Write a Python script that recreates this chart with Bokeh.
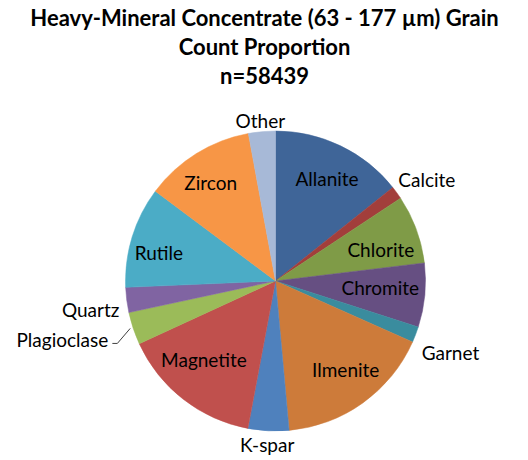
import math
from bokeh.plotting import figure
from bokeh.models import ColumnDataSource, Range1d
from bokeh.core.properties import value
from bokeh.embed import file_html
from bokeh.resources import INLINE

# ---- data (percent of grain count) ----
minerals = ["Allanite", "Calcite", "Chlorite", "Chromite", "Garnet", "Ilmenite",
            "K-spar", "Magnetite", "Plagioclase", "Quartz", "Rutile", "Zircon", "Other"]
proportions = [14.3, 1.4, 7.4, 6.9, 1.7, 16.9, 4.4, 15.2, 3.5, 2.7, 10.9, 11.9, 2.9]
colors = ["#3F6598", "#A23E3B", "#7F9B47", "#664F82", "#3A8C9E", "#CD7B3A",
          "#4F81BD", "#C0504D", "#9BBB59", "#8064A2", "#4BACC6", "#F79646", "#A7B9D7"]
title_lines = ["Heavy-Mineral Concentrate (63 - 177 \u00b5m) Grain",
               "Count Proportion", "n=58439"]

# ---- layout (label placement: radius in px, angle nudge in degrees) ----
W, H = 528, 460
CX, CY, R = 275, H - 280.5, 150
label_r = [115, 182, 110, 105, 189, 113, 164, 106, 221, 187, 120, 118, 161]
label_da = [0.9, 2.3, 3.5, -1.9, 1.3, -2.8, 0.2, 4.5, 3.1, -1.4, -3.6, -1.5, -0.2]

total = sum(proportions)
starts, ends, mids = [], [], []
acc = 0.0
for v in proportions:
    a0 = acc / total * 360.0
    acc += v
    a1 = acc / total * 360.0
    # clockwise-from-top -> bokeh (anticlockwise from +x)
    starts.append(math.radians(90 - a1))
    ends.append(math.radians(90 - a0))
    mids.append((a0 + a1) / 2)

src = ColumnDataSource(dict(start=starts, end=ends, color=colors, name=minerals))

p = figure(width=W, height=H, x_range=Range1d(0, W), y_range=Range1d(0, H),
           output_backend="svg", toolbar_location=None, min_border=0)
p.axis.visible = False
p.grid.visible = False
p.outline_line_color = None
p.background_fill_color = "white"
p.border_fill_color = "white"

p.wedge(x=CX, y=CY, radius=R, start_angle="start", end_angle="end",
        fill_color="color", line_color="color", line_width=0.5, source=src)

lx, ly = [], []
for m, r, da in zip(mids, label_r, label_da):
    a = math.radians(m + da)
    lx.append(CX + r * math.sin(a))
    ly.append(CY + r * math.cos(a))

p.text(x=lx, y=ly, text=minerals, text_font=value("Lato"), text_font_size="19px",
       text_align="center", text_baseline="middle", text_color="black")

# leader line for Plagioclase
i = minerals.index("Plagioclase")
am = math.radians(mids[i])
ex, ey = CX + R * math.sin(am), CY + R * math.cos(am)
px_end = lx[i] + 50
p.line(x=[ex - 3, px_end + 5, px_end], y=[ey, ly[i] - 4, ly[i] - 4],
       line_color="#404040", line_width=1)

# title
ty = [H - 17, H - 46, H - 75]
p.text(x=[W / 2] * 3, y=ty, text=title_lines, text_font=value("Lato"),
       text_font_size="22px", text_font_style="bold", text_align="center",
       text_baseline="middle", text_color="black")

open("out.html", "w").write(file_html(p, INLINE))
